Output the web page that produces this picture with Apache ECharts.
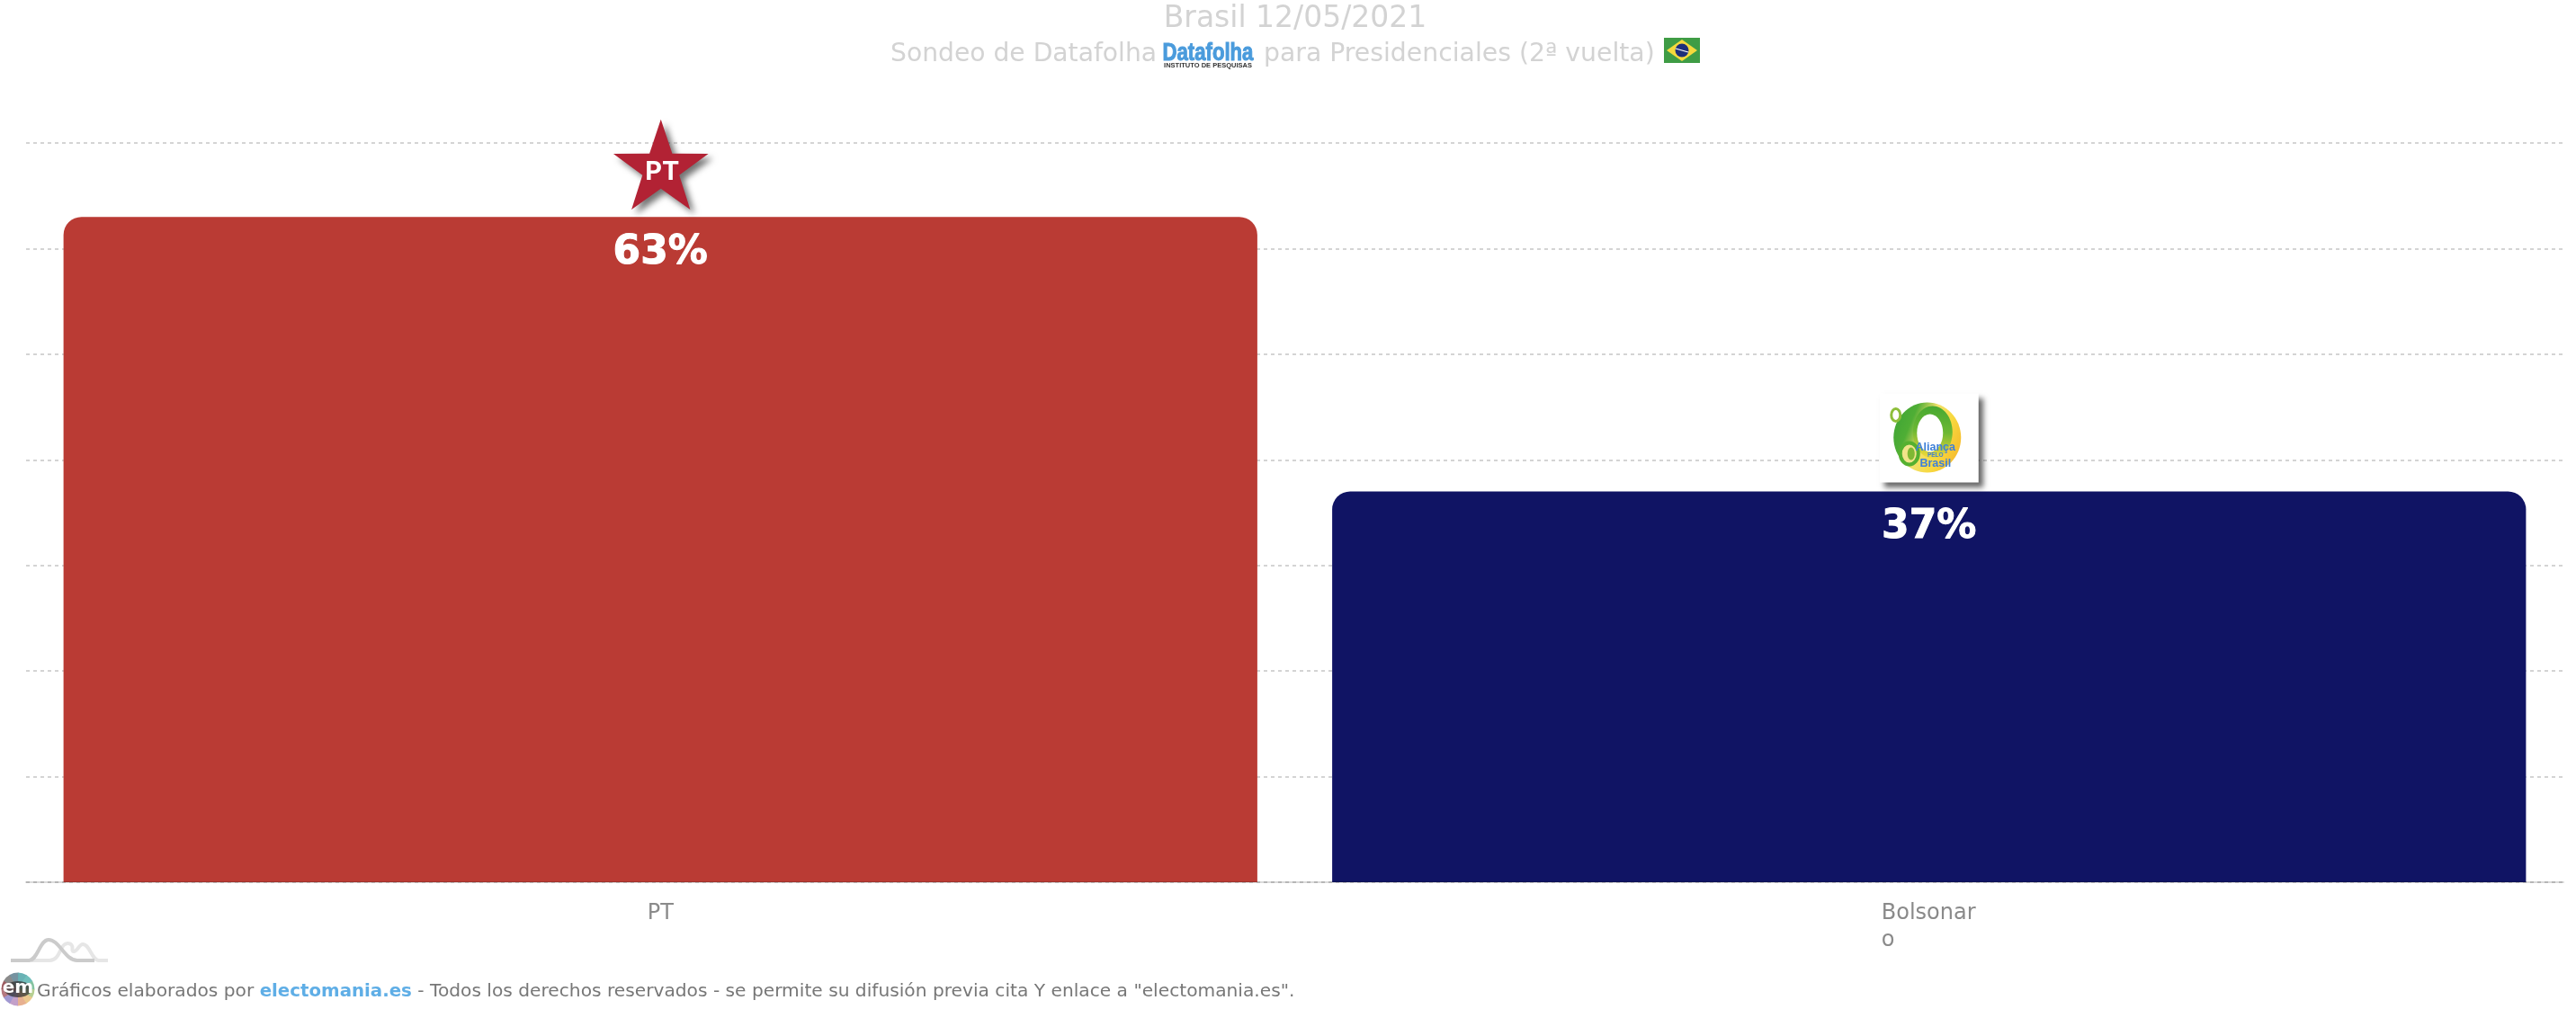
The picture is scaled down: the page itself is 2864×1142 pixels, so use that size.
<!DOCTYPE html>
<html><head><meta charset="utf-8">
<style>html,body{margin:0;padding:0;background:#fff}#c{width:2864px;height:1142px}</style>
<script src="https://cdn.jsdelivr.net/npm/echarts@6/dist/echarts.min.js"></script>
</head><body><div id="c"></div>
<script>
const categories = ['PT', 'Bolsonaro'];
const values = [63, 37];
const barColors = ['#BA3B34', '#101464'];
const logos = ['star', 'ring'];
const titleText = 'Brasil 12/05/2021';
const subLeft = 'Sondeo de Datafolha';
const subRight = 'para Presidenciales (2ª vuelta)';
const footA = 'Gráficos elaborados por ';
const footB = 'electomania.es';
const footC = ' - Todos los derechos reservados - se permite su difusión previa cita Y enlace a "electomania.es".';
const FONT = '"DejaVu Sans"';

const chart = echarts.init(document.getElementById('c'), null, {renderer:'canvas', width:2864, height:1142});

function starPoints(cx, cy, R, r){
  const p=[];
  for(let i=0;i<10;i++){
    const a=-Math.PI/2+i*Math.PI/5, q=i%2?r:R;
    p.push([cx+q*Math.cos(a), cy+q*Math.sin(a)]);
  }
  return p;
}
function renderLogo(params, api){
  const pt = api.coord([api.value(0), api.value(1)]);
  const x = pt[0], y = pt[1];
  if (logos[params.dataIndex]==='star'){
    return {type:'group', children:[
      {type:'polygon', shape:{points:starPoints(x+0.5, y-53, 55.5, 21.5)},
       style:{fill:'#B22234', shadowBlur:7, shadowOffsetX:5, shadowOffsetY:5, shadowColor:'rgba(0,0,0,0.55)'}},
      {type:'text', style:{x:x+2, y:y-50, text:'PT', fill:'#fff', font:'bold 29px Inter', align:'center', verticalAlign:'middle'}}
    ]};
  }
  const lin = (x0,y0,x2,y2,stops)=>({type:'linear',x:x0,y:y0,x2:x2,y2:y2,colorStops:stops.map((c,i)=>({offset:i/(stops.length-1),color:c}))});
  const cx = x-2, cy = y-60;
  return {type:'group', children:[
    {type:'rect', shape:{x:x-55, y:y-109, width:110, height:99},
     style:{fill:'#fff', shadowBlur:6, shadowOffsetX:5, shadowOffsetY:5, shadowColor:'rgba(0,0,0,0.6)'}},
    {type:'ellipse', shape:{cx:cx, cy:cy, rx:37.5, ry:39},
     style:{fill:lin(0,0.2,1,0.6,['#3FA535','#4FAE35','#F1E06A','#F8D93F','#F6BE2F'])}},
    {type:'ellipse', shape:{cx:cx+6, cy:cy-6, rx:22, ry:29},
     style:{fill:lin(0.6,0,0.5,1,['#45A832','#6DB833','#F4D93A'])}},
    {type:'ellipse', shape:{cx:cx+3, cy:cy-5, rx:14.5, ry:21}, style:{fill:'#fff'}},
    {type:'ellipse', shape:{cx:x-37, cy:y-85, rx:5, ry:7}, style:{fill:'#fff', stroke:'#8DBE3A', lineWidth:3}},
    {type:'ellipse', shape:{cx:x-22, cy:y-42, rx:10, ry:12}, style:{fill:'#F1E48A', stroke:'#55B030', lineWidth:4}},
    {type:'ellipse', shape:{cx:x-20, cy:y-42, rx:4, ry:7}, style:{fill:'#7FB833'}},
    {type:'text', style:{x:x+7, y:y-49, text:'Aliança', fill:'#3F80D8', font:'bold 12.5px "Liberation Sans"', align:'center', verticalAlign:'middle'}},
    {type:'text', style:{x:x+7, y:y-40, text:'PELO', fill:'#3F80D8', font:'bold 6.5px "Liberation Sans"', align:'center', verticalAlign:'middle'}},
    {type:'text', style:{x:x+7, y:y-31, text:'Brasil', fill:'#3F80D8', font:'bold 12.5px "Liberation Sans"', align:'center', verticalAlign:'middle'}}
  ]};
}

const emColors = ['#58B4B0','#6FB98F','#A9C77F','#E9BE7A','#E3A27C','#B98FBF','#8F86C9','#A8606A','#8C3F45','#777','#5D7F8F','#4FA5A8'];
const emSectors = emColors.map((c,i)=>({
  type:'sector', silent:true,
  shape:{cx:20, cy:1100, r:18.5, r0:0, startAngle:-Math.PI/2+(i+1)*Math.PI/6, endAngle:-Math.PI/2+(i+2)*Math.PI/6+0.02},
  style:{fill:c, opacity:0.85}
}));

const T = (x,y,text,fill,font,align)=>({type:'text', silent:true, style:{x,y,text,fill,font,align:align||'left',verticalAlign:'middle'}});
const B = (x1,y1,c1x,c1y,c2x,c2y,x2,y2,stroke)=>({type:'bezierCurve', silent:true, shape:{x1,y1,cpx1:c1x,cpy1:c1y,cpx2:c2x,cpy2:c2y,x2,y2}, style:{fill:'none',stroke,lineWidth:4}});
const L = (x1,y,x2,stroke)=>({type:'line', silent:true, shape:{x1,y1:y,x2,y2:y}, style:{stroke,lineWidth:4}});

chart.setOption({
  animation:false,
  backgroundColor:'#fff',
  grid:{left:29, right:14, top:159, height:822, containLabel:false},
  xAxis:{type:'category', data:categories, z:3,
    axisTick:{show:false},
    axisLine:{show:true, lineStyle:{color:'rgba(0,0,0,0.14)', width:2}},
    axisLabel:{color:'#8a8a8a', fontFamily:FONT, fontSize:24, margin:20, lineHeight:30, interval:0,
      formatter:(v)=> v.length>8 ? '{l|'+v.slice(0,8)+'}\n{l|'+v.slice(8)+'}' : '{c|'+v+'}',
      rich:{l:{width:106, align:'left', fontSize:24, fontFamily:FONT, color:'#8a8a8a', lineHeight:30},
            c:{fontSize:24, fontFamily:FONT, color:'#8a8a8a', lineHeight:30}}}
  },
  yAxis:{type:'value', min:0, max:70, interval:10,
    axisLine:{show:false}, axisTick:{show:false}, axisLabel:{show:false},
    splitLine:{show:true, lineStyle:{color:'#d4d4d4', width:2, type:[4,4]}}
  },
  series:[
    {type:'bar', data:values.map((v,i)=>({value:v, itemStyle:{color:barColors[i]}})),
     barWidth:'94.1%', itemStyle:{borderRadius:[20,20,0,0]},
     label:{show:true, position:'insideTop', distance:18, formatter:'{c}%', color:'#fff', fontFamily:FONT, fontWeight:'bold', fontSize:44, textBorderColor:'#fff', textBorderWidth:1}},
    {type:'custom', data:values.map((v,i)=>[i,v]), encode:{x:0,y:1}, renderItem:renderLogo, z:4, clip:false, silent:true}
  ],
  graphic:[
    T(1440,21,titleText,'#d3d3d3','33px '+FONT,'center'),
    T(990,61,subLeft,'#d3d3d3','28.2px '+FONT),
    T(1405,61,subRight,'#d3d3d3','28.3px '+FONT),
    {type:'text', silent:true, x:1343, y:60, scaleX:0.82, style:{x:0,y:0,text:'Datafolha',fill:'#4A9BDC',font:'bold 27px "Liberation Sans"',align:'center',verticalAlign:'middle',stroke:'#4A9BDC',lineWidth:1}},
    T(1343,73,'INSTITUTO DE PESQUISAS','#333','bold 7.5px "Liberation Sans"','center'),
    {type:'rect', silent:true, shape:{x:1850,y:42,width:40,height:28}, style:{fill:'#3F9C45'}},
    {type:'polygon', silent:true, shape:{points:[[1870,44],[1887,56],[1870,68],[1853,56]]}, style:{fill:'#F5D93C'}},
    {type:'circle', silent:true, shape:{cx:1870,cy:56,r:7.5}, style:{fill:'#1F2F7A'}},
    {type:'line', silent:true, shape:{x1:1863,y1:54,x2:1877,y2:58}, style:{stroke:'#fff',lineWidth:1.2}},
    L(35,1068,55,'#e6e6e6'),
    B(55,1068,68,1068,66,1048,76,1049,'#e6e6e6'),
    B(76,1049,84,1050,78,1058,82,1058,'#e6e6e6'),
    B(82,1058,86,1058,88,1050,92,1050,'#e6e6e6'),
    B(92,1050,100,1050,102,1068,110,1068,'#e6e6e6'),
    L(110,1068,120,'#e6e6e6'),
    L(12,1068,32,'#cbcbcb'),
    B(32,1068,42,1068,44,1045,54,1045,'#cbcbcb'),
    B(54,1045,66,1045,72,1068,86,1068,'#cbcbcb'),
    L(86,1068,105,'#cbcbcb'),
    ...emSectors,
    {type:'ellipse', silent:true, shape:{cx:20,cy:1100,rx:15,ry:9}, style:{fill:'rgba(50,50,50,0.75)'}},
    T(20,1099,'em','#fff','bold 20px '+FONT,'center'),
    {type:'text', silent:true, style:{x:41,y:1103,verticalAlign:'middle',align:'left',
      text:'{a|'+footA+'}{b|'+footB+'}{a|'+footC+'}',
      rich:{a:{fill:'#777',font:'20.2px '+FONT},b:{fill:'#5FAEE6',font:'bold 19.8px '+FONT}}}}
  ]
});
</script></body></html>
